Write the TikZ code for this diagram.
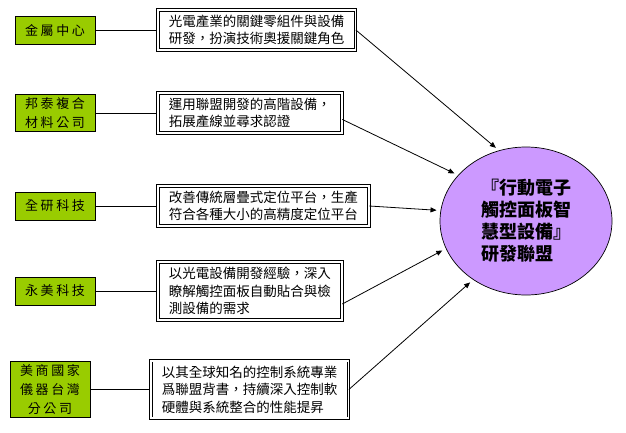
\documentclass[tikz,border=0pt]{standalone}
\usepackage{fontspec}
\setmainfont{Noto Sans CJK TC}
\newfontfamily\cjk{Noto Sans CJK TC}
\newfontfamily\cjkwide[LetterSpace=20]{Noto Sans CJK TC}
\usetikzlibrary{positioning,shapes.geometric,arrows.meta}
\definecolor{orggreen}{RGB}{153,204,0}
\definecolor{allyviolet}{RGB}{204,153,255}

\begin{document}
\begin{tikzpicture}[x=1pt,y=-1pt,
  org/.style={draw, line width=0.9pt, fill=orggreen, minimum width=80pt, minimum height=28pt,
    inner sep=3pt, align=center, font=\cjkwide\fontsize{13}{19}\selectfont},
  role/.style={draw, double, double distance=1.6pt, line width=0.9pt, align=left,
    inner xsep=11pt, inner ysep=5pt, font=\cjk\fontsize{13.5}{17.5}\selectfont},
  ally/.style={ellipse, draw, line width=0.7pt, fill=allyviolet, minimum width=172pt,
    minimum height=148pt, inner sep=0pt, align=left, font=\cjk\bfseries\fontsize{18}{22}\selectfont},
  link/.style={line width=0.8pt},
  arr/.style={line width=0.8pt, -{Triangle[length=6pt,width=5pt]}, shorten >=4pt}]

  \useasboundingbox (0,0) rectangle (626,433);

  \node (A) [org] at (55,30) {金屬中心};
  \node (B) [org] at (55,113) {邦泰複合\\材料公司};
  \node (C) [org] at (55,206) {全研科技};
  \node (D) [org] at (55,291) {永美科技};
  \node (E) [org] at (50,389.5) {美商國家\\儀器台灣\\分公司};

  \node (F) [role, right=62pt of A] {光電產業的關鍵零組件與設備\\研發，扮演技術奧援關鍵角色};
  \node (G) [role, right=62pt of B] {運用聯盟開發的高階設備，\\拓展產線並尋求認證};
  \node (H) [role, right=62pt of C] {改善傳統層疊式定位平台，生產\\符合各種大小的高精度定位平台};
  \node (I) [role, right=62pt of D] {以光電設備開發經驗，深入\\瞭解觸控面板自動貼合與檢\\測設備的需求};
  \node (J) [role, right=60pt of E] {以其全球知名的控制系統專業\\爲聯盟背書，持續深入控制軟\\硬體與系統整合的性能提昇};

  \node (K) [ally] at (526,221) {『行動電子\\觸控面板智\\慧型設備』\\研發聯盟};

  \draw [link] (A) -- (F);
  \draw [link] (B) -- (G);
  \draw [link] (C) -- (H);
  \draw [link] (D) -- (I);
  \draw [link] (E) -- (J);

  \draw [arr] (F.east) -- (K.111);
  \draw [arr] (G.-4) -- (K.146);
  \draw [arr] (H.east) -- (K.173);
  \draw [arr] (I.-8) -- (K.199);
  \draw [arr] (J.east) -- (K.228);

\end{tikzpicture}
\end{document}
